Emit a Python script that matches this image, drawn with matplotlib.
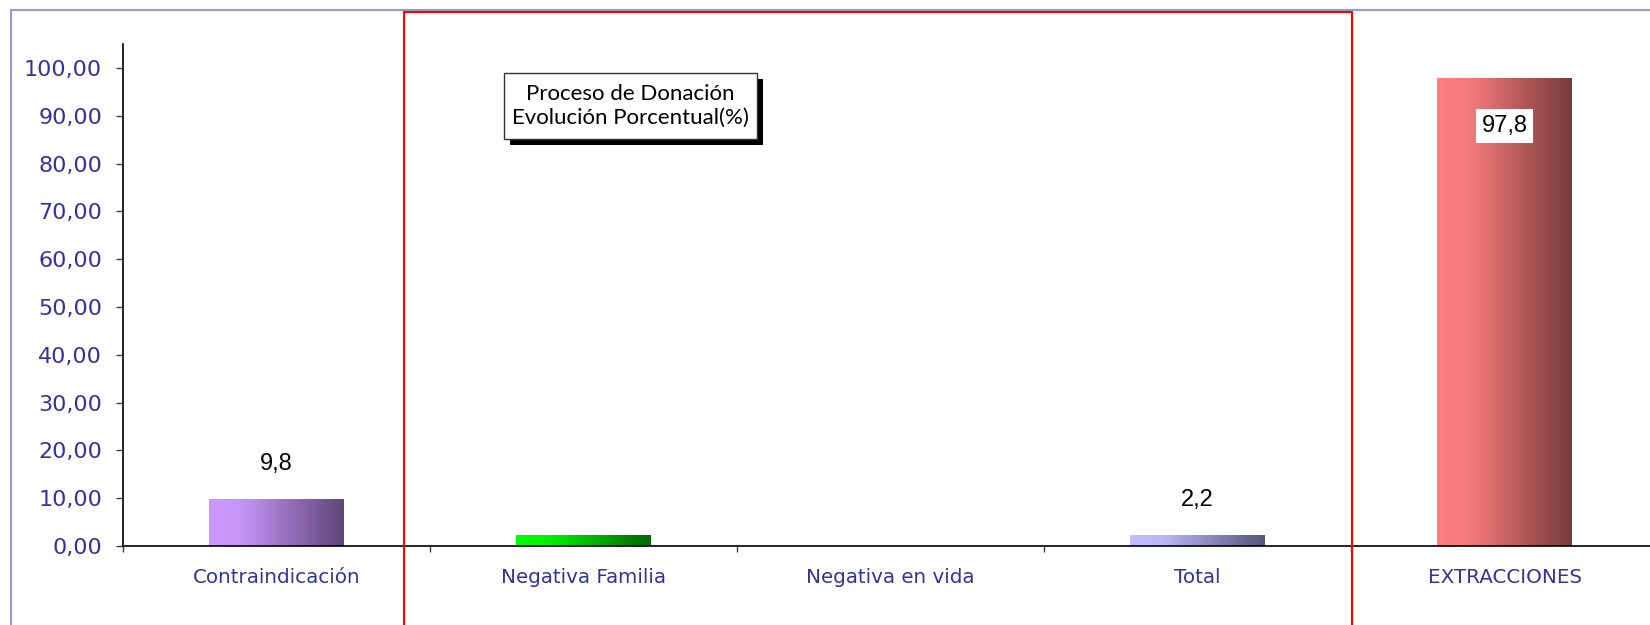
import numpy as np
import matplotlib
matplotlib.use("Agg")
import matplotlib.pyplot as plt
from matplotlib.colors import LinearSegmentedColormap
from matplotlib.patches import Rectangle

# data
categories = ["Contraindicación", "Negativa Familia", "Negativa en vida", "Total", "EXTRACCIONES"]
values = [9.8, 2.2, 0.0, 2.2, 97.8]
show_label = [True, False, False, True, True]
yticks = [0, 10, 20, 30, 40, 50, 60, 70, 80, 90, 100]
title_lines = ["Proceso de Donación", "Evolución Porcentual(%)"]

# gradient colours per bar (left -> right)
grads = [
    [(0, "#CC99FF"), (0.25, "#C494F5"), (1, "#5E4678")],
    [(0, "#00FF00"), (0.25, "#00F000"), (1, "#006600")],
    [(0, "#C0C0FF"), (0.25, "#B8B8F4"), (1, "#555577")],
    [(0, "#C0C0FF"), (0.25, "#B8B8F4"), (1, "#555577")],
    [(0, "#FF8080"), (0.25, "#F47A7A"), (1, "#773B3B")],
]

W, H = 1650, 625
fig = plt.figure(figsize=(W / 100, H / 100), dpi=100)
fig.patch.set_facecolor("white")

def fx(px):
    return px / W

def fy(py):
    return 1 - py / H

ax = fig.add_axes([fx(123), fy(546), fx(1658 - 123), (546 - 44) / H])

x = np.arange(len(categories))
bars = ax.bar(x, values, width=0.437, color="none", edgecolor="none", zorder=2)

for bar, g in zip(bars, grads):
    h = bar.get_height()
    if h <= 0:
        continue
    cmap = LinearSegmentedColormap.from_list("g", g)
    bx, bw = bar.get_x(), bar.get_width()
    ax.imshow(np.linspace(0, 1, 256).reshape(1, -1), cmap=cmap,
              extent=[bx, bx + bw, 0, h], aspect="auto", zorder=2,
              interpolation="bilinear")

ax.set_xlim(-0.5, len(categories) - 0.5)
ax.set_ylim(0, 105)

# value labels
for xi, v, show in zip(x, values, show_label):
    if not show:
        continue
    txt = f"{v:.1f}".replace(".", ",")
    if v > 50:
        ax.text(xi, v - 9.9, txt, ha="center", va="center", fontsize=17,
                family="Liberation Sans", color="black", zorder=4,
                bbox=dict(boxstyle="square,pad=0.25", fc="white", ec="none"))
    else:
        ax.text(xi, v + 7.4, txt, ha="center", va="center", fontsize=17,
                family="Liberation Sans", color="black", zorder=4)

# axes styling
for s in ["top", "right"]:
    ax.spines[s].set_visible(False)
ax.spines["left"].set_color("black")
ax.spines["bottom"].set_color("black")
ax.spines["left"].set_linewidth(1.2)
ax.spines["bottom"].set_linewidth(1.2)

ax.set_yticks(yticks)
ax.set_yticklabels([f"{t:.2f}".replace(".", ",") for t in yticks])
ax.tick_params(axis="y", direction="out", length=5, width=1, color="#404040",
               labelsize=16, labelcolor="#333399", pad=10)

ax.set_xticks(np.arange(len(categories) + 1) - 0.5)
ax.set_xticklabels([])
ax.set_xticks(x, minor=True)
ax.set_xticklabels(categories, minor=True)
ax.tick_params(axis="x", which="major", direction="out", length=4, width=1,
               color="#404040")
ax.tick_params(axis="x", which="minor", length=0, labelsize=14.3,
               labelcolor="#333399", pad=16)

# outer border (cropped chart area)
fig.add_artist(Rectangle((fx(11), fy(700)), fx(1700), (700 - 10) / H,
                         transform=fig.transFigure, fill=False,
                         ec="#9999CC", lw=1.5, zorder=0))

# red rectangle
fig.add_artist(Rectangle((fx(404), fy(700)), fx(1352 - 404), (700 - 12) / H,
                         transform=fig.transFigure, fill=False,
                         ec="red", lw=1.5, zorder=5))

# title box with shadow
bx0, bx1, by0, by1 = 504, 757, 73, 139
fig.add_artist(Rectangle((fx(bx0 + 6), fy(by1 + 6)), fx(bx1 - bx0), (by1 - by0) / H,
                         transform=fig.transFigure, fc="black", ec="none", zorder=6))
fig.add_artist(Rectangle((fx(bx0), fy(by1)), fx(bx1 - bx0), (by1 - by0) / H,
                         transform=fig.transFigure, fc="white", ec="#333333",
                         lw=1, zorder=7))
fig.text(fx((bx0 + bx1) / 2), fy((by0 + by1) / 2), "\n".join(title_lines),
         ha="center", va="center", fontsize=16, family="Lato",
         linespacing=1.2, zorder=8)

fig.savefig("out.png", dpi=100)
